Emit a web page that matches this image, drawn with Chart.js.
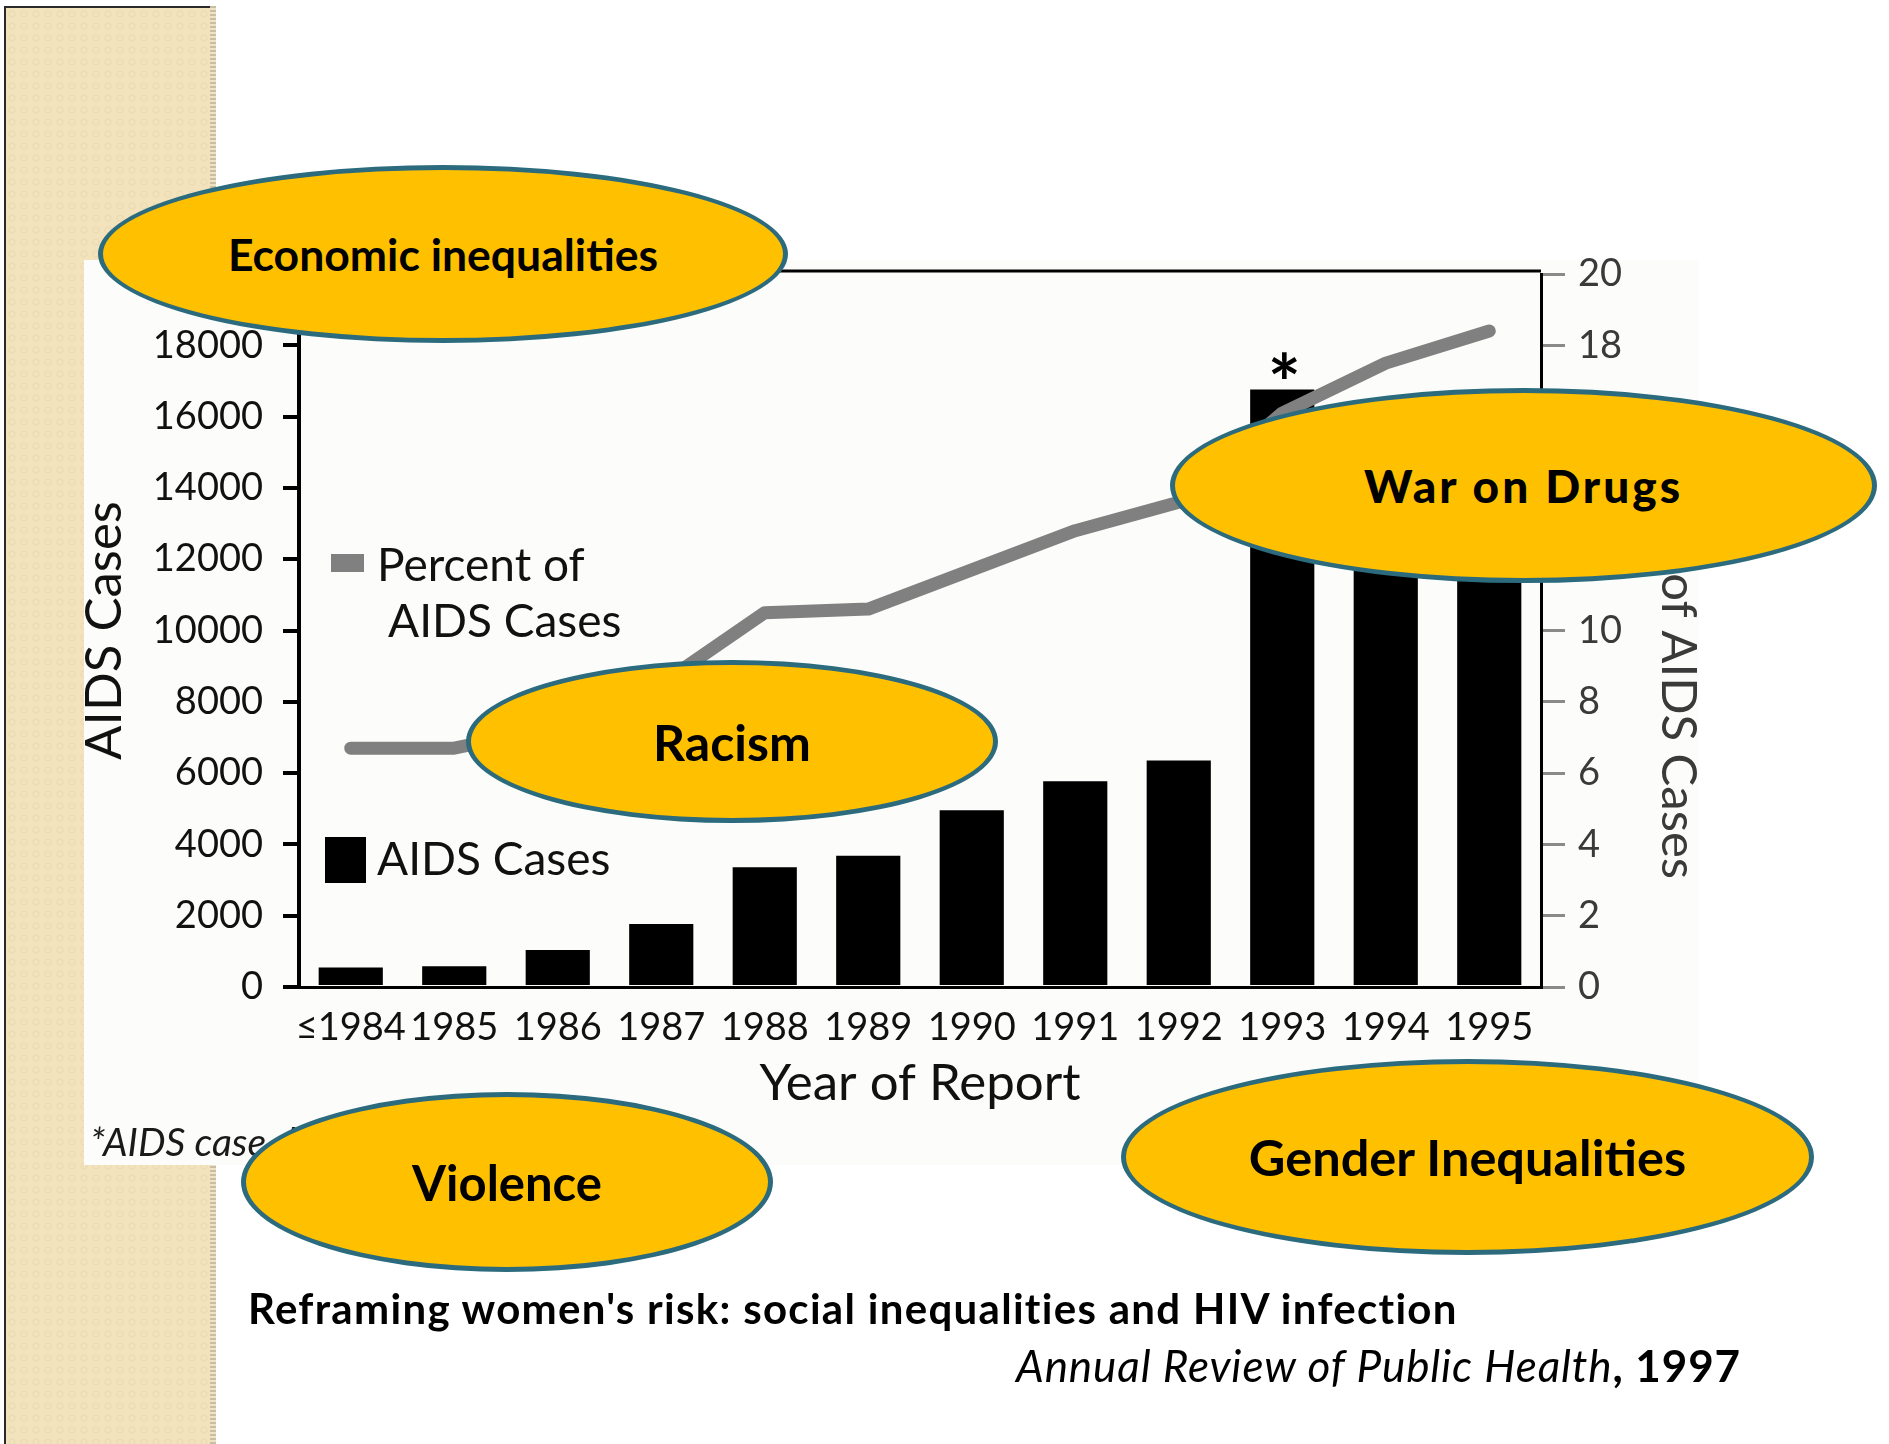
<!DOCTYPE html>
<html>
<head>
<meta charset="utf-8">
<script src="https://cdn.jsdelivr.net/npm/chart.js@4.4.0/dist/chart.umd.min.js"></script>
<style>
  html, body { margin: 0; padding: 0; background: #fff; }
  body { width: 1889px; height: 1444px; position: relative; overflow: hidden; font-family: Lato, "DejaVu Sans", sans-serif; }
  #strip {
    position: absolute; left: 4px; top: 6px; width: 206px; height: 1440px;
    border-left: 2px solid #2a2a2a; border-top: 2px solid #2a2a2a;
    background-color: #f2e3bd;
    background-image: radial-gradient(circle, rgba(255,250,235,0.0) 2px, rgba(220,198,150,0.35) 3px, rgba(255,250,235,0) 4px);
    background-size: 12px 12px;
  }
  #stripEdge {
    position: absolute; left: 210px; top: 6px; width: 6px; height: 1440px;
    background: repeating-linear-gradient(to bottom, #c9bea3 0 2px, #efe3c2 2px 4px);
  }
  #paper { position: absolute; left: 84px; top: 260px; width: 1615px; height: 905px; background: #fcfcfa; }
  #wrap { position: absolute; left: 0; top: 0; width: 1889px; height: 1444px; }
  .note { position: absolute; line-height: 1; white-space: nowrap; }
  .oval {
    position: absolute; box-sizing: border-box; border-radius: 50%;
    background: #ffc000; border: 5px solid #2b6b7d;
    display: flex; align-items: center; justify-content: center;
    font-weight: 700; color: #000; white-space: nowrap; line-height: 1;
  }
</style>
</head>
<body>
<div id="strip"></div>
<div id="stripEdge"></div>
<div id="paper"></div>
<div id="wrap"><canvas id="chart"></canvas></div>

<div class="note" style="left:90px; top:1122px; font-size:39px; font-style:italic; color:#1a1a1a;">*AIDS case definition expanded</div>

<div class="oval" style="left:98px; top:165px; width:690px; height:178px; font-size:44.5px;">Economic inequalities</div>
<div class="oval" style="left:1170px; top:388px; width:707px; height:195px; font-size:46px; font-weight:900; letter-spacing:3px;">War on Drugs</div>
<div class="oval" style="left:466px; top:660px; width:532px; height:163px; font-size:50px;">Racism</div>
<div class="oval" style="left:241px; top:1092px; width:532px; height:180px; font-size:49px;">Violence</div>
<div class="oval" style="left:1121px; top:1059px; width:693px; height:196px; font-size:50.5px;">Gender Inequalities</div>

<div class="note" style="left:248px; top:1287px; font-size:42px; font-weight:700; letter-spacing:1.3px; color:#000;">Reframing women's risk: social inequalities and HIV infection</div>
<div class="note" style="right:148px; top:1343px; font-size:44px; letter-spacing:0.9px; color:#000;"><i>Annual Review of Public Health</i><b>, 1997</b></div>

<script>
// values
var years = ['\u22641984', '1985', '1986', '1987', '1988', '1989', '1990', '1991', '1992', '1993', '1994', '1995'];
var aidsCases = [550, 580, 1040, 1770, 3360, 3680, 4960, 5770, 6350, 16760, 14100, 13800];
var percentOfCases = [6.7, 6.7, 7.3, 8.5, 10.5, 10.6, 11.7, 12.8, 13.6, 16.1, 17.5, 18.4];
var caseTicks = [0, 2000, 4000, 6000, 8000, 10000, 12000, 14000, 16000, 18000, 20000];
var percentTicks = [0, 2, 4, 6, 8, 10, 12, 14, 16, 18, 20];
var starredYear = '1993';

var FONT = 'Lato, "DejaVu Sans", sans-serif';

// legend, star, right axis title and top frame line
var decorPlugin = {
    id: 'decor',
    afterDatasetsDraw: function (chart) {
        var ctx = chart.ctx;
        var a = chart.chartArea;
        ctx.save();

        // top frame line
        ctx.strokeStyle = '#000';
        ctx.lineWidth = 3;
        ctx.beginPath();
        ctx.moveTo(a.left, a.top - 3);
        ctx.lineTo(a.right, a.top - 3);
        ctx.stroke();

        // star above the 1993 bar
        var bar = chart.getDatasetMeta(1).data[years.indexOf(starredYear)];
        ctx.fillStyle = '#000';
        ctx.font = 'bold 78px ' + FONT;
        ctx.textAlign = 'center';
        ctx.textBaseline = 'alphabetic';
        ctx.fillText('*', bar.x + 2, bar.y + 22);

        // legend
        ctx.textAlign = 'left';
        ctx.textBaseline = 'middle';
        ctx.font = '46px ' + FONT;
        ctx.fillStyle = '#808080';
        ctx.fillRect(a.left + 32, a.top + 280, 33, 18);
        ctx.fillStyle = '#111';
        ctx.fillText('Percent of', a.left + 78, a.top + 292);
        ctx.fillText('AIDS Cases', a.left + 89, a.top + 348);

        ctx.fillStyle = '#000';
        ctx.fillRect(a.left + 26, a.top + 563, 41, 46);
        ctx.fillStyle = '#111';
        ctx.fillText('AIDS Cases', a.left + 78, a.top + 586);

        // right axis title, read top to bottom
        ctx.translate(a.right + 137, a.bottom - 108);
        ctx.rotate(Math.PI / 2);
        ctx.font = '49px ' + FONT;
        ctx.fillStyle = '#3a3a3a';
        ctx.textAlign = 'right';
        ctx.fillText('Percent of AIDS Cases', 0, 0);
        ctx.restore();
    }
};

var chart = new Chart(document.getElementById('chart'), {
    type: 'bar',
    data: {
        labels: years,
        datasets: [
            {
                type: 'line',
                label: 'Percent of AIDS Cases',
                data: percentOfCases,
                yAxisID: 'y2',
                borderColor: '#808080',
                borderWidth: 13,
                borderCapStyle: 'round',
                borderJoinStyle: 'round',
                pointRadius: 0,
                tension: 0,
                order: 0
            },
            {
                type: 'bar',
                label: 'AIDS Cases',
                data: aidsCases,
                yAxisID: 'y',
                backgroundColor: '#000',
                borderWidth: 0,
                barPercentage: 0.62,
                categoryPercentage: 1.0,
                order: 1
            }
        ]
    },
    options: {
        responsive: true,
        maintainAspectRatio: false,
        animation: false,
        layout: {
            padding: { left: 74, right: 181, top: 274, bottom: 330 }
        },
        plugins: {
            legend: { display: false },
            tooltip: { enabled: false },
            title: { display: false }
        },
        scales: {
            x: {
                offset: true,
                afterFit: function (s) { s.height = 127; },
                grid: { display: true, drawOnChartArea: false, drawTicks: false },
                border: { display: true, color: '#000', width: 3 },
                ticks: {
                    color: '#111',
                    padding: 18,
                    maxRotation: 0,
                    autoSkip: false,
                    font: { family: FONT, size: 38 }
                },
                title: {
                    display: true,
                    text: 'Year of Report',
                    color: '#111',
                    padding: 0,
                    font: { family: FONT, size: 51 }
                }
            },
            y: {
                position: 'left',
                min: 0,
                max: 20000,
                afterFit: function (s) { s.width = 225; },
                afterBuildTicks: function (s) {
                    s.ticks = caseTicks.map(function (v) { return { value: v }; });
                },
                grid: { display: true, drawOnChartArea: false, drawTicks: true, tickLength: 16, lineWidth: 4, color: '#000' },
                border: { display: true, color: '#000', width: 4 },
                ticks: {
                    color: '#111',
                    padding: 20,
                    font: { family: FONT, size: 38 },
                    callback: function (v) { return v >= 20000 ? '' : String(v); }
                },
                title: {
                    display: true,
                    text: 'AIDS Cases',
                    color: '#111',
                    padding: 0,
                    font: { family: FONT, size: 51 }
                }
            },
            y2: {
                position: 'right',
                min: 0,
                max: 20,
                afterFit: function (s) { s.width = 167; },
                afterBuildTicks: function (s) {
                    s.ticks = percentTicks.map(function (v) { return { value: v }; });
                },
                grid: { display: true, drawOnChartArea: false, drawTicks: true, tickLength: 24, lineWidth: 3, color: '#8a8a8a' },
                border: { display: true, color: '#000', width: 3 },
                ticks: {
                    color: '#3a3a3a',
                    padding: 13,
                    font: { family: FONT, size: 38 }
                },
                title: { display: false }
            }
        }
    },
    plugins: [decorPlugin]
});
</script>
</body>
</html>
